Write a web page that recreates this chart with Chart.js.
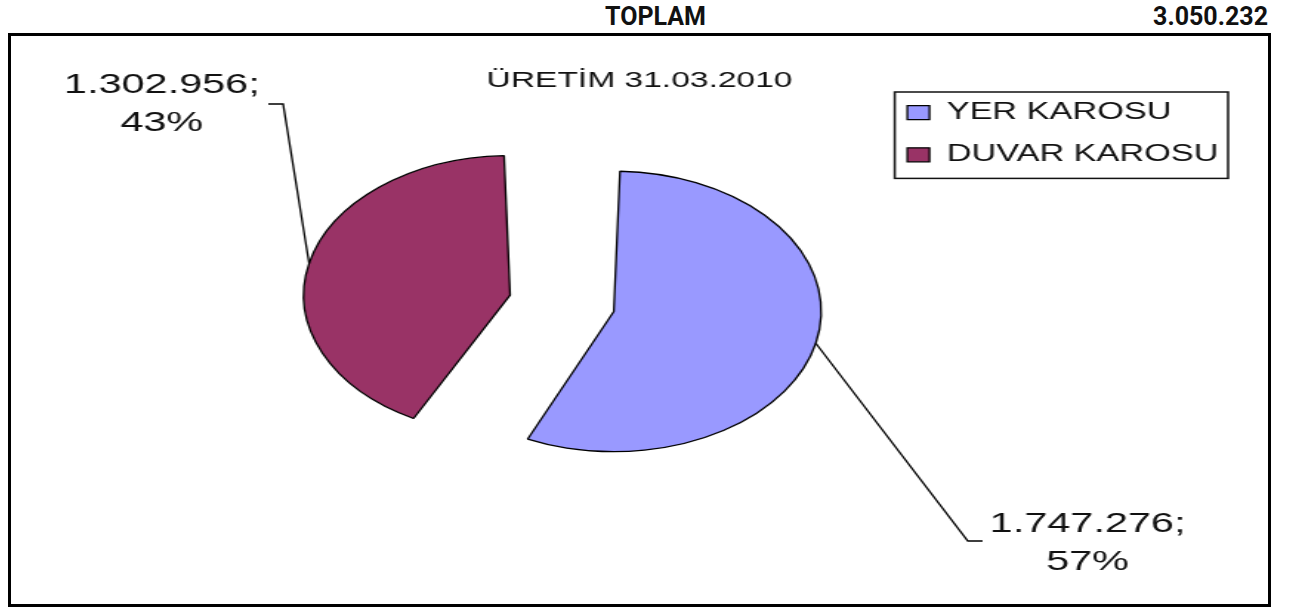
<!DOCTYPE html>
<html lang="tr">
<head>
<meta charset="utf-8">
<title>Üretim 31.03.2010</title>
<script src="https://cdn.jsdelivr.net/npm/chart.js@4.4.1/dist/chart.umd.min.js"></script>
<style>
    html, body {
        margin: 0;
        padding: 0;
        background: #fff;
    }
    body {
        position: relative;
        width: 1298px;
        height: 609px;
        overflow: hidden;
    }
    .sheet-cell {
        position: absolute;
        top: 4px;
        font-family: Roboto, 'Noto Sans', sans-serif;
        font-weight: bold;
        font-size: 25px;
        line-height: 25px;
        color: #111;
        white-space: nowrap;
    }
    #totalLabel { left: 605px; }
    #totalValue { right: 30px; }
    .chart-frame {
        position: absolute;
        left: 8px;
        top: 33px;
        width: 1257px;
        height: 568px;
        border: 3px solid #000;
        background: #fff;
        overflow: hidden;
    }
    /* Excel chart was stretched sideways, so the canvas is too */
    #uretimChart {
        position: absolute;
        left: 0;
        top: 0;
        transform-origin: 0 0;
        transform: scaleX(1.47882);
    }
</style>
</head>
<body>
<div class="sheet-cell" id="totalLabel">TOPLAM</div>
<div class="sheet-cell" id="totalValue"></div>
<div class="chart-frame">
    <canvas id="uretimChart" width="850" height="568"></canvas>
</div>

<script>
// Production on 31.03.2010 (m2)
const categories = ['YER KAROSU', 'DUVAR KAROSU'];
const production = [1747276, 1302956];
const sliceColors = ['#9999FF', '#993366'];
const chartTitle = 'ÜRETİM 31.03.2010';

// where each data label sits (canvas units, before the sideways stretch)
const labelSpots = [
    { textX: 728, textY: 488, stubX: 657, kneeX: 647, lineY: 505 },
    { textX: 102, textY: 49, stubX: 174, kneeX: 184, lineY: 68 }
];

const FONT = "'Liberation Sans', Arial, sans-serif";

function formatTr(n) {
    return String(n).replace(/\B(?=(\d{3})+(?!\d))/g, '.');
}

const total = production.reduce((s, v) => s + v, 0);
document.getElementById('totalValue').textContent = formatTr(total);

/**
 * Chart heading, centred on the whole chart box (not the plot area)
 */
const headingText = {
    id: 'headingText',
    afterDraw(chart) {
        const ctx = chart.ctx;
        ctx.save();
        ctx.fillStyle = '#111';
        ctx.font = '22.7px ' + FONT;
        ctx.textAlign = 'center';
        ctx.textBaseline = 'middle';
        ctx.fillText(chartTitle, chart.width / 2, 45);
        ctx.restore();
    }
};

/**
 * Leader lines + "value; pct" labels like Excel draws them
 */
const sliceLabels = {
    id: 'sliceLabels',
    afterDatasetsDraw(chart) {
        const ctx = chart.ctx;
        const arcs = chart.getDatasetMeta(0).data;
        ctx.save();
        arcs.forEach((arc, i) => {
            const p = arc.getProps(['x', 'y', 'startAngle', 'endAngle', 'outerRadius', 'circumference'], true);
            const mid = (p.startAngle + p.endAngle) / 2;
            const shift = (arc.options.offset || 0) / 4;
            const fix = 1 - Math.sin(Math.min(Math.PI, p.circumference));
            const r = p.outerRadius + shift * fix + shift;
            const ex = p.x + Math.cos(mid) * r;
            const ey = p.y + Math.sin(mid) * r;
            const spot = labelSpots[i];

            ctx.beginPath();
            ctx.strokeStyle = '#000';
            ctx.lineWidth = 1.3;
            ctx.moveTo(ex, ey);
            ctx.lineTo(spot.kneeX, spot.lineY);
            ctx.lineTo(spot.stubX, spot.lineY);
            ctx.stroke();

            const pct = Math.round(production[i] / total * 100);
            ctx.fillStyle = '#111';
            ctx.font = '28px ' + FONT;
            ctx.textAlign = 'center';
            ctx.textBaseline = 'middle';
            ctx.fillText(formatTr(production[i]) + ';', spot.textX, spot.textY);
            ctx.fillText(pct + '%', spot.textX, spot.textY + 38);
        });
        ctx.restore();
    }
};

/**
 * Box around the legend
 */
const legendFrame = {
    id: 'legendFrame',
    afterDraw(chart) {
        const boxes = chart.legend && chart.legend.legendHitBoxes;
        if (!boxes || !boxes.length) return;
        const first = boxes[0];
        const last = boxes[boxes.length - 1];
        const left = first.left - 8.5;
        const top = first.top - 9;
        const right = Math.max(...boxes.map(b => b.left + b.width)) + 6.5;
        const bottom = last.top + last.height + 12;
        const ctx = chart.ctx;
        ctx.save();
        ctx.strokeStyle = '#111';
        ctx.lineWidth = 1.5;
        ctx.strokeRect(left, top, right - left, bottom - top);
        ctx.restore();
    }
};

function createProductionPie(canvasId) {
    const ctx = document.getElementById(canvasId);
    if (!ctx) {
        console.error(`Canvas element ${canvasId} not found`);
        return null;
    }

    return new Chart(ctx, {
        type: 'pie',
        data: {
            labels: categories,
            datasets: [{
                data: production,
                backgroundColor: sliceColors,
                borderColor: '#000',
                borderWidth: 1.3,
                offset: [105, 183],   // exploded slices
                hoverOffset: 0,
                radius: 114
            }]
        },
        options: {
            responsive: false,
            animation: false,
            events: [],
            layout: {
                padding: { left: 177, right: 23.5, top: 46, bottom: 75 }
            },
            plugins: {
                title: { display: false },
                legend: {
                    display: true,
                    position: 'right',
                    align: 'start',
                    fullSize: false,
                    labels: {
                        color: '#111',
                        font: { family: FONT, size: 23.2 },
                        boxWidth: 15,
                        boxHeight: 14,
                        padding: 19
                    }
                },
                tooltip: { enabled: false }
            }
        },
        plugins: [sliceLabels, legendFrame, headingText]
    });
}

createProductionPie('uretimChart');
</script>
</body>
</html>
